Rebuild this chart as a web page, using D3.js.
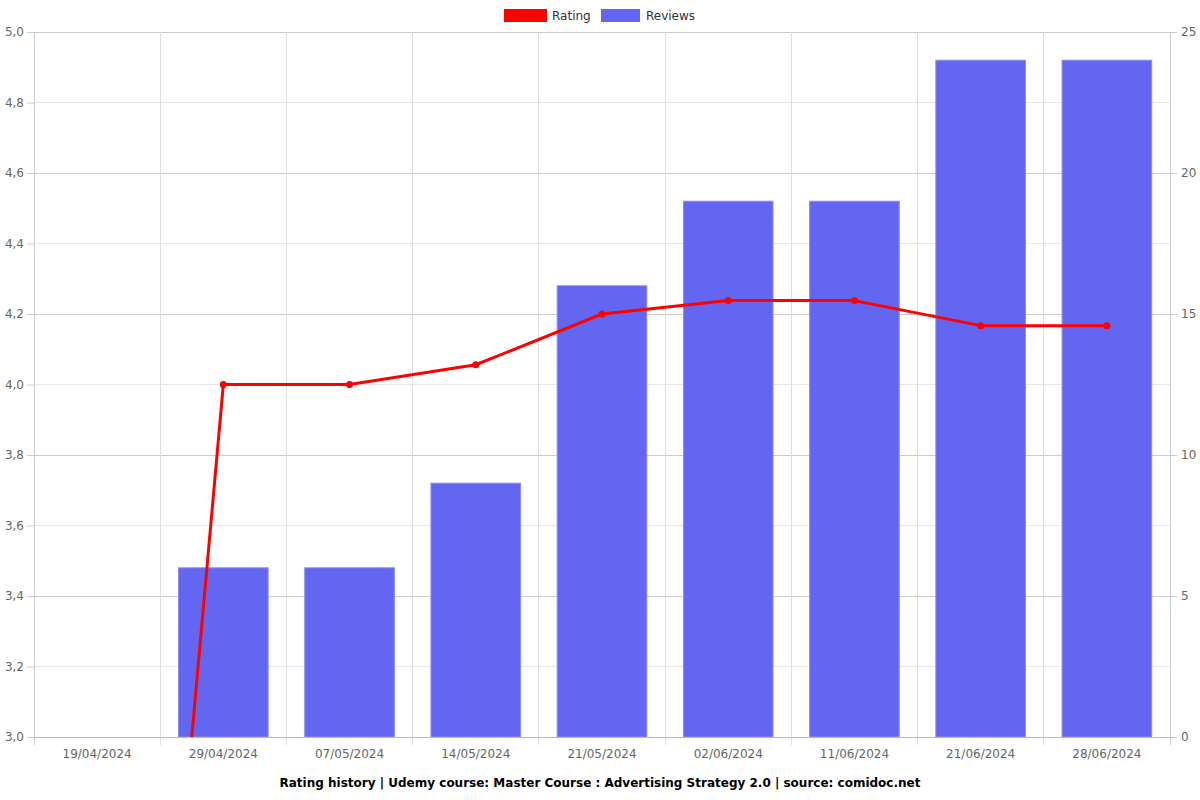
<!DOCTYPE html>
<html><head><meta charset="utf-8">
<script src="https://cdn.jsdelivr.net/npm/d3@7/dist/d3.min.js"></script>
<style>body{margin:0;background:#fff;font-family:"DejaVu Sans",sans-serif;}</style>
</head><body>
<svg id="chart" width="1200" height="800"></svg>
<script>
const categories = ["19/04/2024","29/04/2024","07/05/2024","14/05/2024","21/05/2024","02/06/2024","11/06/2024","21/06/2024","28/06/2024"];
const ratings = [0, 4.0, 4.0, 4.056, 4.2, 4.238, 4.238, 4.167, 4.167];
const reviews = [0, 6, 6, 9, 16, 19, 19, 24, 24];
const leftTicks = [3.0,3.2,3.4,3.6,3.8,4.0,4.2,4.4,4.6,4.8,5.0];
const rightTicks = [0,5,10,15,20,25];
const title = "Rating history | Udemy course: Master Course : Advertising Strategy 2.0 | source: comidoc.net";

const svg = d3.select("#chart");
const L = 34, R = 1170, T = 32, B = 737;
const x = d3.scaleBand().domain(categories).range([L, R]).paddingInner(0).paddingOuter(0);
const yL = d3.scaleLinear().domain([3, 5]).range([B, T]);
const yR = d3.scaleLinear().domain([0, 25]).range([B, T]);

// left grid (light)
svg.append("g").selectAll("line").data(leftTicks).join("line")
  .attr("x1", L).attr("x2", R).attr("y1", d => yL(d)).attr("y2", d => yL(d))
  .attr("stroke", "#e6e6e6").attr("stroke-width", 1).attr("shape-rendering","crispEdges");
// right grid (darker)
svg.append("g").selectAll("line").data(rightTicks).join("line")
  .attr("x1", L).attr("x2", R).attr("y1", d => yR(d)).attr("y2", d => yR(d))
  .attr("stroke", "#cccccc").attr("stroke-width", 1).attr("shape-rendering","crispEdges");
// vertical grid
const bounds = categories.map(c => x(c)).concat([R]);
svg.append("g").selectAll("line").data(bounds).join("line")
  .attr("x1", d => d).attr("x2", d => d).attr("y1", T).attr("y2", B + 8)
  .attr("stroke", "#e0e0e0").attr("stroke-width", 1).attr("shape-rendering","crispEdges");

// bars
const bw = x.bandwidth() * 0.71;
svg.append("g").selectAll("rect").data(categories.map((c,i)=>({c, v: reviews[i]})).filter(d=>d.v>0)).join("rect")
  .attr("x", d => x(d.c) + (x.bandwidth() - bw)/2)
  .attr("width", bw)
  .attr("y", d => yR(d.v))
  .attr("height", d => yR(0) - yR(d.v))
  .attr("fill", "#6366f1")
  .attr("stroke", "#8a8cf4").attr("stroke-width", 1);

// axes lines
svg.append("line").attr("x1", L).attr("x2", R).attr("y1", B).attr("y2", B)
  .attr("stroke", "#bbbbbb").attr("shape-rendering","crispEdges");
svg.append("line").attr("x1", L).attr("x2", L).attr("y1", T).attr("y2", B+8)
  .attr("stroke", "#cccccc").attr("shape-rendering","crispEdges");
svg.append("line").attr("x1", R).attr("x2", R).attr("y1", T).attr("y2", B+8)
  .attr("stroke", "#cccccc").attr("shape-rendering","crispEdges");

// left axis
const gl = svg.append("g").attr("transform", `translate(${L},0)`)
  .call(d3.axisLeft(yL).tickValues(leftTicks).tickFormat(d => d3.format(".1f")(d).replace(".", ",")).tickSize(7).tickPadding(3));
// right axis
const gr = svg.append("g").attr("transform", `translate(${R},0)`)
  .call(d3.axisRight(yR).tickValues(rightTicks).tickSize(7).tickPadding(4));
// bottom axis
const gb = svg.append("g").attr("transform", `translate(0,${B})`)
  .call(d3.axisBottom(x).tickSize(0).tickPadding(12));
[gl, gr, gb].forEach(g => {
  g.select(".domain").remove();
  g.selectAll(".tick line").attr("stroke", "#cccccc");
  g.selectAll("text").attr("fill", "#666666").style("font-size", "12px").style("font-family", "DejaVu Sans, sans-serif");
});

// line (clipped)
svg.append("clipPath").attr("id", "clip").append("rect")
  .attr("x", L).attr("y", T - 5).attr("width", R - L).attr("height", B - T + 5);
const pts = categories.map((c,i) => [x(c) + x.bandwidth()/2, yL(ratings[i])]);
const lg = svg.append("g").attr("clip-path", "url(#clip)");
lg.append("path").attr("d", d3.line()(pts)).attr("fill", "none")
  .attr("stroke", "#ff0000").attr("stroke-width", 3).attr("stroke-linejoin","round");
lg.selectAll("circle").data(pts).join("circle")
  .attr("cx", d => d[0]).attr("cy", d => d[1]).attr("r", 3.5).attr("fill", "#ff0000");

// legend
const leg = svg.append("g").style("font-family","DejaVu Sans, sans-serif").style("font-size","12px");
leg.append("rect").attr("x", 504).attr("y", 9).attr("width", 43).attr("height", 13).attr("fill", "#ff0000");
leg.append("text").attr("x", 552).attr("y", 20).attr("fill", "#333").text("Rating");
leg.append("rect").attr("x", 601).attr("y", 9).attr("width", 39).attr("height", 13).attr("fill", "#6366f1");
leg.append("text").attr("x", 646).attr("y", 20).attr("fill", "#333").text("Reviews");

// title
svg.append("text").attr("x", 600).attr("y", 787).attr("text-anchor", "middle")
  .style("font-family","DejaVu Sans, sans-serif").style("font-size","12px").style("font-weight","bold")
  .attr("fill", "#000").text(title);
</script>
</body></html>
